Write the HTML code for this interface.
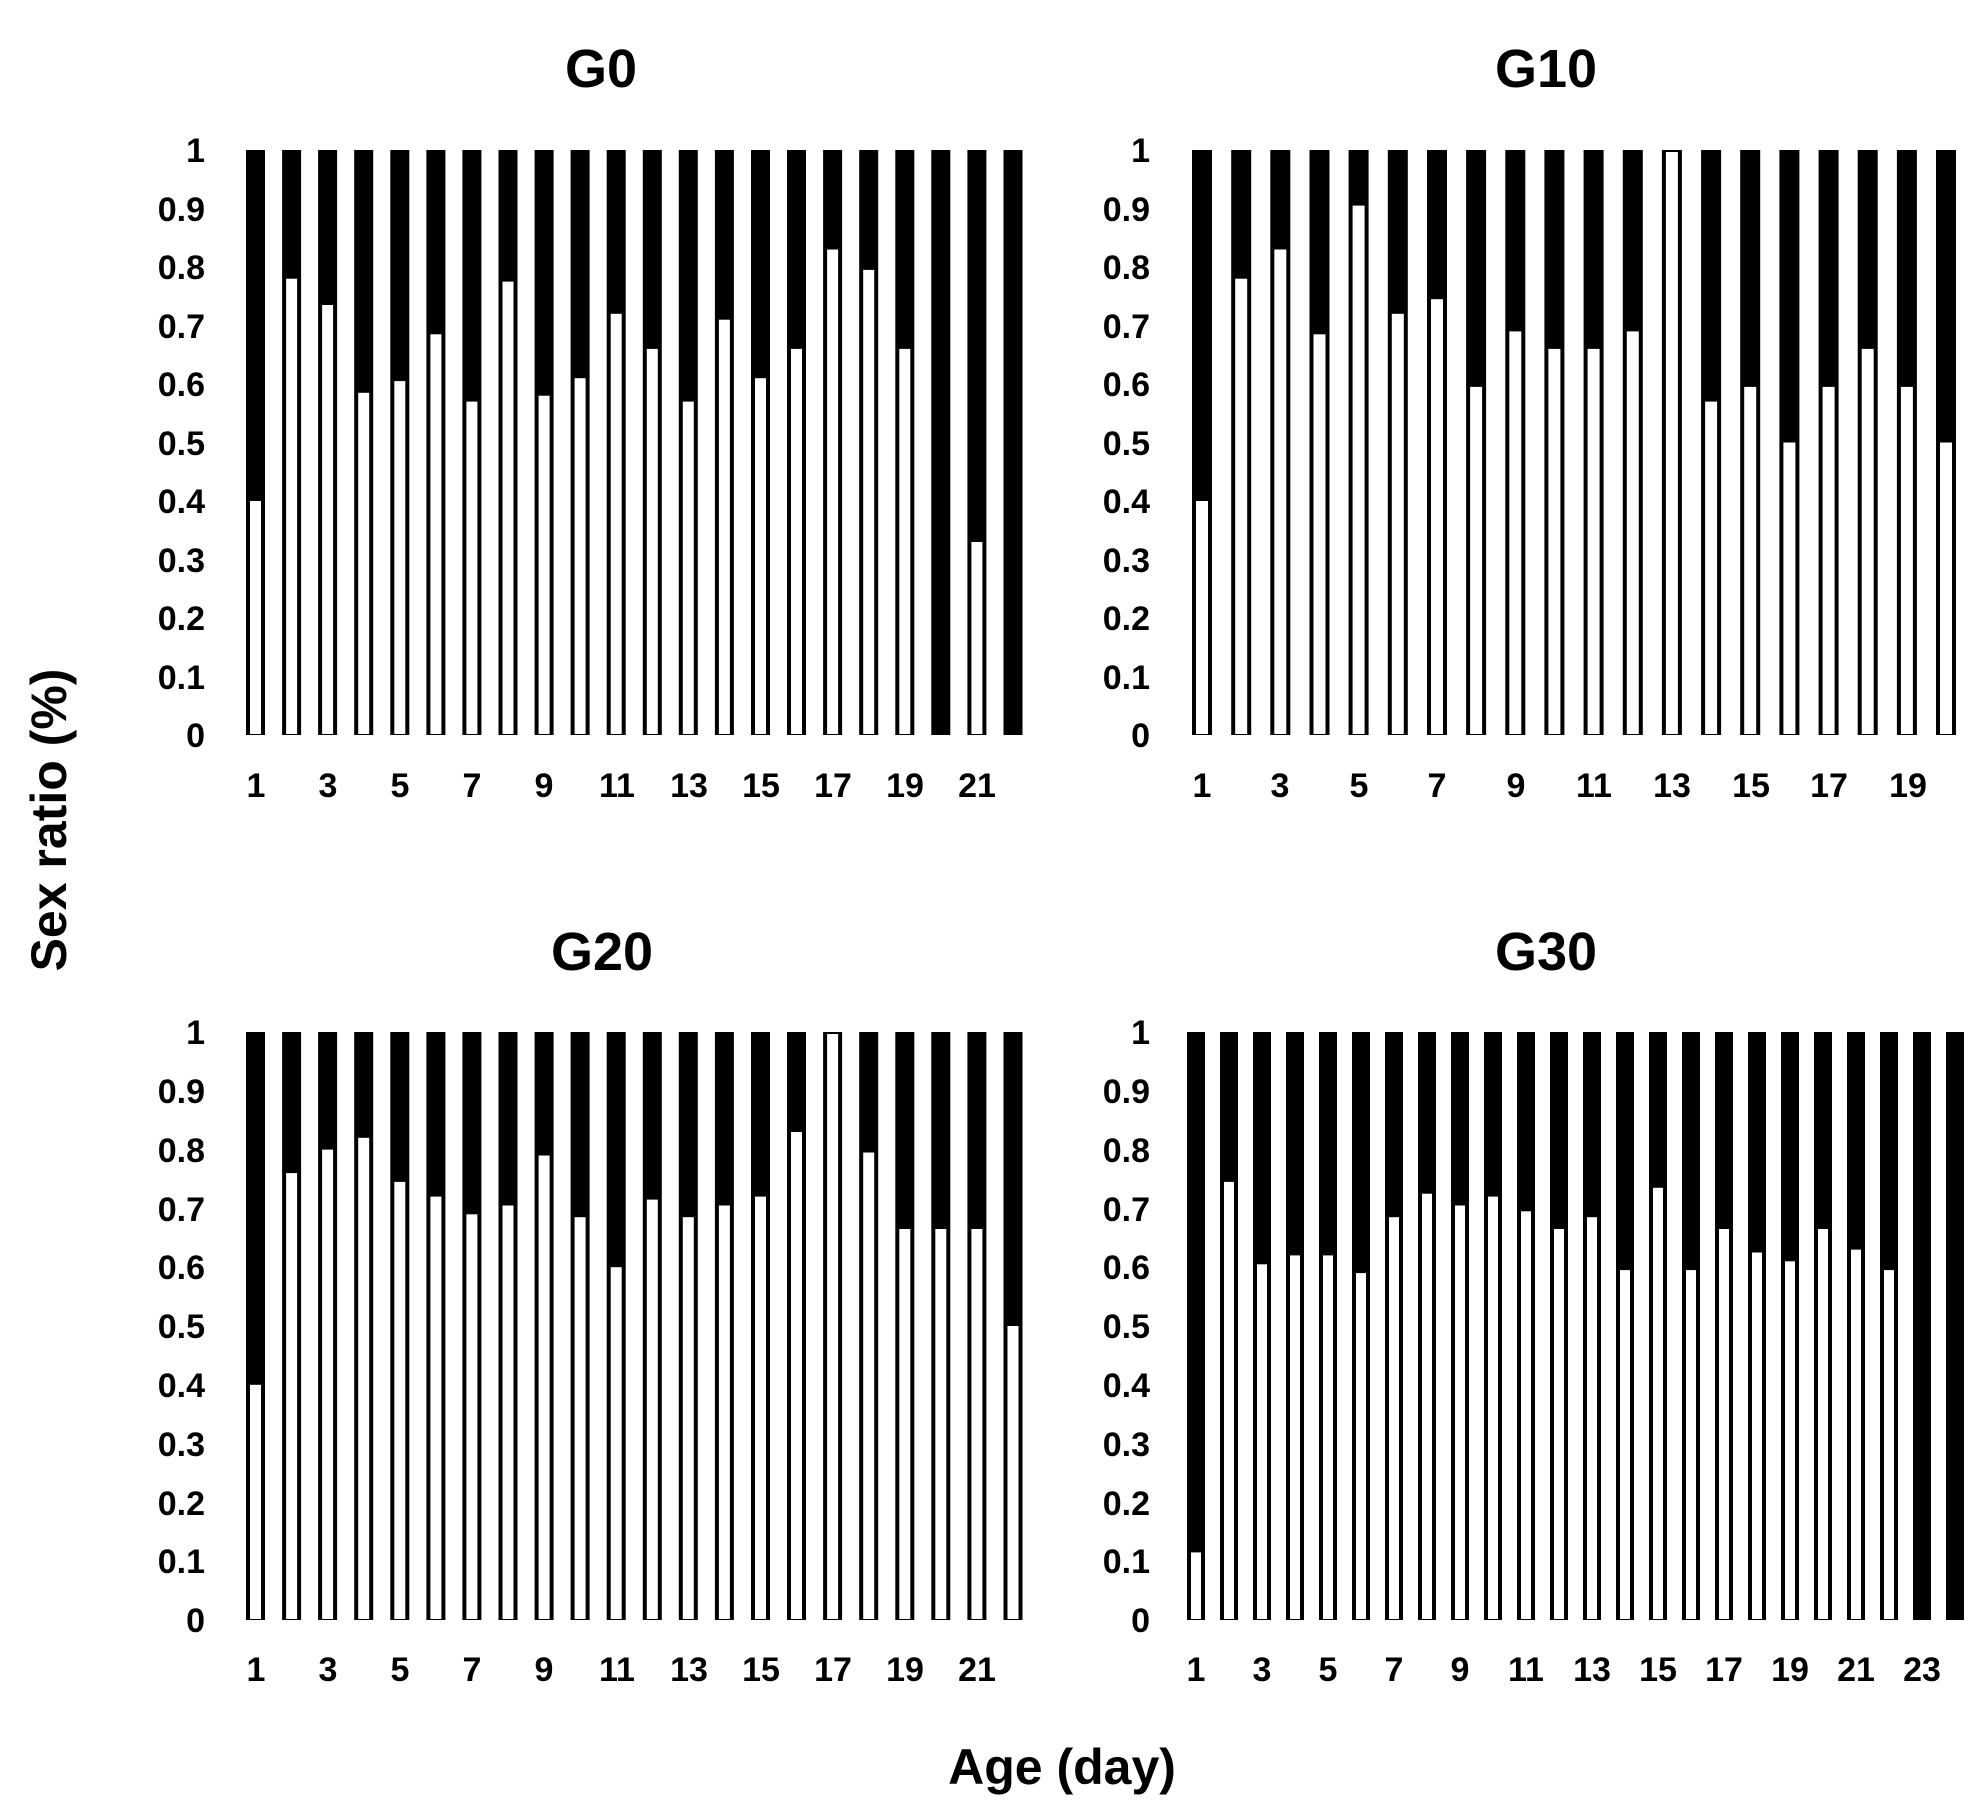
<!DOCTYPE html>
<html><head><meta charset="utf-8"><style>
html,body{margin:0;padding:0;background:#fff;}
svg{display:block;}
text{font-family:"Liberation Sans",Arial,sans-serif;font-weight:bold;fill:#000;}
.t{font-size:34px;}
.ti{font-size:54px;}
.ax{font-size:50px;}
</style></head><body>
<svg id="s" width="1985" height="1815" xmlns="http://www.w3.org/2000/svg">
<rect width="1985" height="1815" fill="#fff"/>
<g id="bars"></g>
<text class="ti" x="601" y="87" text-anchor="middle">G0</text>
<text class="ti" x="1546" y="87" text-anchor="middle">G10</text>
<text class="ti" x="602" y="970" text-anchor="middle">G20</text>
<text class="ti" x="1546" y="970" text-anchor="middle">G30</text>
<text class="ax" x="1062" y="1784" text-anchor="middle">Age (day)</text>
<text class="ax" x="0" y="0" text-anchor="middle" transform="translate(66,820) rotate(-90)">Sex ratio (%)</text>
<g class="t" text-anchor="end">
<text x="205" y="162">1</text><text x="205" y="221">0.9</text><text x="205" y="279">0.8</text><text x="205" y="338">0.7</text><text x="205" y="396">0.6</text><text x="205" y="455">0.5</text><text x="205" y="513">0.4</text><text x="205" y="572">0.3</text><text x="205" y="630">0.2</text><text x="205" y="689">0.1</text><text x="205" y="747">0</text>
<text x="1150" y="162">1</text><text x="1150" y="221">0.9</text><text x="1150" y="279">0.8</text><text x="1150" y="338">0.7</text><text x="1150" y="396">0.6</text><text x="1150" y="455">0.5</text><text x="1150" y="513">0.4</text><text x="1150" y="572">0.3</text><text x="1150" y="630">0.2</text><text x="1150" y="689">0.1</text><text x="1150" y="747">0</text>
<text x="205" y="1044">1</text><text x="205" y="1103">0.9</text><text x="205" y="1162">0.8</text><text x="205" y="1221">0.7</text><text x="205" y="1279">0.6</text><text x="205" y="1338">0.5</text><text x="205" y="1397">0.4</text><text x="205" y="1456">0.3</text><text x="205" y="1515">0.2</text><text x="205" y="1573">0.1</text><text x="205" y="1632">0</text>
<text x="1150" y="1044">1</text><text x="1150" y="1103">0.9</text><text x="1150" y="1162">0.8</text><text x="1150" y="1221">0.7</text><text x="1150" y="1279">0.6</text><text x="1150" y="1338">0.5</text><text x="1150" y="1397">0.4</text><text x="1150" y="1456">0.3</text><text x="1150" y="1515">0.2</text><text x="1150" y="1573">0.1</text><text x="1150" y="1632">0</text>
</g>
<g class="t" text-anchor="middle">
<text x="256" y="797">1</text><text x="328" y="797">3</text><text x="400" y="797">5</text><text x="472" y="797">7</text><text x="544" y="797">9</text><text x="617" y="797">11</text><text x="689" y="797">13</text><text x="761" y="797">15</text><text x="833" y="797">17</text><text x="905" y="797">19</text><text x="977" y="797">21</text>
<text x="1202" y="797">1</text><text x="1280" y="797">3</text><text x="1359" y="797">5</text><text x="1437" y="797">7</text><text x="1516" y="797">9</text><text x="1594" y="797">11</text><text x="1672" y="797">13</text><text x="1751" y="797">15</text><text x="1829" y="797">17</text><text x="1908" y="797">19</text>
<text x="256" y="1681">1</text><text x="328" y="1681">3</text><text x="400" y="1681">5</text><text x="472" y="1681">7</text><text x="544" y="1681">9</text><text x="617" y="1681">11</text><text x="689" y="1681">13</text><text x="761" y="1681">15</text><text x="833" y="1681">17</text><text x="905" y="1681">19</text><text x="977" y="1681">21</text>
<text x="1196" y="1681">1</text><text x="1262" y="1681">3</text><text x="1328" y="1681">5</text><text x="1394" y="1681">7</text><text x="1460" y="1681">9</text><text x="1526" y="1681">11</text><text x="1592" y="1681">13</text><text x="1658" y="1681">15</text><text x="1724" y="1681">17</text><text x="1790" y="1681">19</text><text x="1856" y="1681">21</text><text x="1922" y="1681">23</text>
</g>
</svg>
<script>
var P=[
{x0:255.5,dx:36.07,w:19,y1:150,y0:735,v:[0.4,0.78,0.735,0.585,0.605,0.685,0.57,0.775,0.58,0.61,0.72,0.66,0.57,0.71,0.61,0.66,0.83,0.795,0.66,0,0.33,0]},
{x0:1202,dx:39.16,w:20,y1:150,y0:735,v:[0.4,0.78,0.83,0.685,0.905,0.72,0.745,0.595,0.69,0.66,0.66,0.69,1.0,0.57,0.595,0.5,0.595,0.66,0.595,0.5]},
{x0:255.5,dx:36.07,w:19,y1:1032,y0:1620,v:[0.4,0.76,0.8,0.82,0.745,0.72,0.69,0.705,0.79,0.685,0.6,0.715,0.685,0.705,0.72,0.83,1.0,0.795,0.665,0.665,0.665,0.5]},
{x0:1196,dx:33,w:18,y1:1032,y0:1620,v:[0.115,0.745,0.605,0.62,0.62,0.59,0.685,0.725,0.705,0.72,0.695,0.665,0.685,0.595,0.735,0.595,0.665,0.625,0.61,0.665,0.63,0.595,0,0]}
];
var g=document.getElementById('bars'),s='';
P.forEach(function(p){p.v.forEach(function(v,i){
var cx=p.x0+i*p.dx,x=cx-p.w/2,h=p.y0-p.y1;
s+='<rect x="'+x.toFixed(1)+'" y="'+p.y1+'" width="'+p.w+'" height="'+h+'" fill="#000"/>';
if(v>0){var yt=p.y0-v*h;
if(v>=1)yt=p.y1+2;
s+='<rect x="'+(x+4).toFixed(1)+'" y="'+yt.toFixed(1)+'" width="'+(p.w-8)+'" height="'+(p.y0-1-yt).toFixed(1)+'" fill="#fff"/>';}
});});
g.innerHTML=s;
</script>
</body></html>
